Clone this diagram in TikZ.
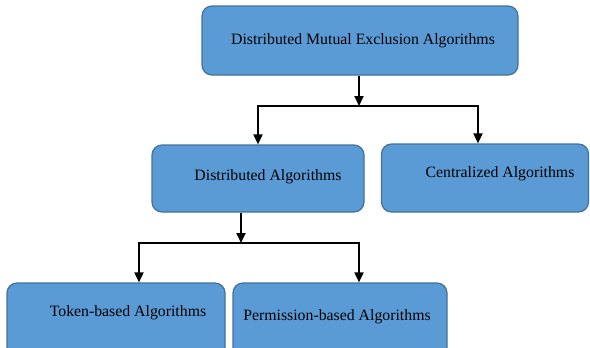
\documentclass[tikz,border=0pt]{standalone}
\usepackage{fontspec}
\setmainfont{Liberation Serif}
\usetikzlibrary{arrows.meta}
\definecolor{boxfill}{HTML}{5B9BD5}
\definecolor{boxline}{HTML}{41719C}
\begin{document}
\begin{tikzpicture}[x=1pt,y=-1pt,
  box/.style={draw=boxline,line width=1.2pt,fill=boxfill,rounded corners=10pt,minimum width=#1,inner sep=0pt},
  lab/.style={font=\fontsize{15.8}{19}\selectfont,text=black},
  conn/.style={line width=1.8pt,-{Triangle[length=10pt,width=9pt]}}]
\useasboundingbox (0,0) rectangle (590,348);
\clip (0,0) rectangle (590,348);
\node[box=316pt,minimum height=69pt,label={[lab,xshift=3pt]center:Distributed Mutual Exclusion Algorithms}] (top) at (360,40.5) {};
\node[box=212pt,minimum height=67pt,label={[lab,xshift=10pt,yshift=2pt]center:Distributed Algorithms}] (dist) at (258,178.5) {};
\node[box=207pt,minimum height=68pt,label={[lab,xshift=15pt,yshift=4pt]center:Centralized Algorithms}] (cent) at (485,178) {};
\node[box=218pt,minimum height=84pt,label={[lab,xshift=12pt,yshift=12pt]center:Token-based Algorithms}] (tok) at (116,325) {};
\node[box=214pt,minimum height=84pt,label={[lab,xshift=-3pt,yshift=8pt]center:Permission-based Algorithms}] (perm) at (340,325) {};
\coordinate (j1) at (359,106);
\coordinate (j2) at (241,243);
\draw[conn] (top.south -| j1) -- (j1);
\draw[conn] (j1) -| (dist.north);
\draw[conn] (j1) -| ([xshift=-7pt]cent.north);
\draw[conn] (dist.south -| j2) -- (j2);
\draw[conn] (j2) -| ([xshift=23pt]tok.north);
\draw[conn] (j2) -| ([xshift=19pt]perm.north);
\end{tikzpicture}
\end{document}
